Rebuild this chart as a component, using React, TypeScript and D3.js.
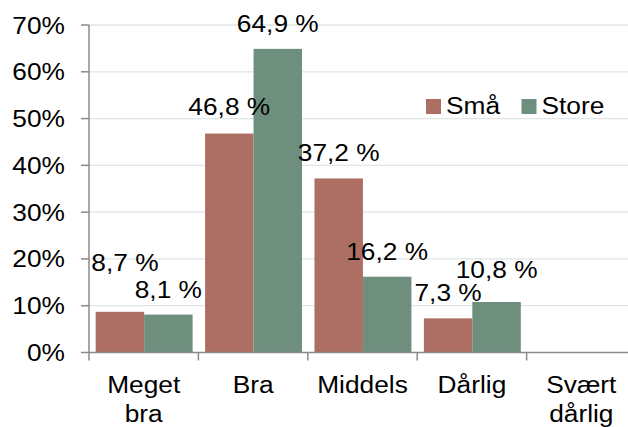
import React from "react";
import * as d3 from "d3";

const categories: string[][] = [["Meget", "bra"], ["Bra"], ["Middels"], ["Dårlig"], ["Svært", "dårlig"]];
const seriesNames = ["Små", "Store"];
const smaValues: (number | null)[] = [8.7, 46.8, 37.2, 7.3, null];
const storeValues: (number | null)[] = [8.1, 64.9, 16.2, 10.8, null];
const yTicks = [0, 10, 20, 30, 40, 50, 60, 70];

const colors = ["#ad6f63", "#6e8e7e"];
// label layout nudges (dx, dy) per series/category, layout only
const labelNudge: [number, number][][] = [
  [[5, -24], [0, -2], [0, 0], [0, 0], [0, 0]],
  [[0, 0], [0, 0], [0, 0], [0, -7], [0, 0]],
];

const W = 628;
const H = 427;
const FS = 23.5;
const SX = 1.12;
const FONT = "'Liberation Sans', Arial, sans-serif";

function fmt(v: number) {
  return v.toFixed(1).replace(".", ",") + " %";
}

function T(props: { x: number; y: number; anchor?: string; children: React.ReactNode }) {
  const { x, y, anchor = "middle", children } = props;
  return (
    <text
      transform={`translate(${x},${y}) scale(${SX},1)`}
      textAnchor={anchor}
      fontFamily={FONT}
      fontSize={FS}
      fill="#000"
    >
      {children}
    </text>
  );
}

export default function App() {
  const left = 89;
  const step = 109.4;
  const x = d3
    .scaleBand<number>()
    .domain(categories.map((_, i) => i))
    .range([left, left + step * categories.length])
    .paddingInner(0)
    .paddingOuter(0);
  const y = d3.scaleLinear().domain([0, 70]).range([352.5, 25]);
  const bw = x.bandwidth();
  const groupOff = bw * 0.061;
  const barW = bw * 0.443;
  const series = [smaValues, storeValues];
  const axisColor = "#8a8a8a";

  return (
    <svg
      width={W}
      height={H}
      style={{ position: "absolute", left: 0, top: 0, background: "#fff" }}
    >
      <rect x={0} y={0} width={W} height={H} fill="#fff" />
      {yTicks.map((t) =>
        t === 0 ? null : (
          <line key={"g" + t} x1={left} x2={W} y1={y(t)} y2={y(t)} stroke="#dde6e4" strokeWidth={1.3} />
        )
      )}
      {series.map((vals, si) =>
        vals.map((v, ci) =>
          v == null ? null : (
            <rect
              key={`b${si}-${ci}`}
              x={(x(ci) as number) + groupOff + si * barW}
              y={y(v)}
              width={barW}
              height={y(0) - y(v)}
              fill={colors[si]}
            />
          )
        )
      )}
      {/* y axis */}
      <line x1={left} x2={left} y1={y(70)} y2={y(0)} stroke={axisColor} strokeWidth={1.5} />
      {yTicks.map((t) => (
        <g key={"yt" + t}>
          <line x1={left - 8} x2={left} y1={y(t)} y2={y(t)} stroke={axisColor} strokeWidth={1.5} />
          <T x={65} y={y(t) + 8.5} anchor="end">{t + "%"}</T>
        </g>
      ))}
      {/* x axis */}
      <line x1={left} x2={W + 20} y1={y(0)} y2={y(0)} stroke={axisColor} strokeWidth={1.5} />
      {categories.map((_, i) => (
        <line
          key={"xt" + i}
          x1={(x(i) as number)}
          x2={(x(i) as number)}
          y1={y(0)}
          y2={y(0) + 8}
          stroke={axisColor}
          strokeWidth={1.5}
        />
      ))}
      {categories.map((lines, i) =>
        lines.map((ln, li) => (
          <T key={`xl${i}-${li}`} x={(x(i) as number) + bw / 2} y={393 + li * 28.5}>
            {ln}
          </T>
        ))
      )}
      {/* data labels */}
      {series.map((vals, si) =>
        vals.map((v, ci) =>
          v == null ? null : (
            <T
              key={`l${si}-${ci}`}
              x={(x(ci) as number) + groupOff + si * barW + barW / 2 + labelNudge[si][ci][0]}
              y={y(v) - 17 + labelNudge[si][ci][1]}
            >
              {fmt(v)}
            </T>
          )
        )
      )}
      {/* legend */}
      {seriesNames.map((name, i) => {
        const lx = i === 0 ? 426 : 521.5;
        return (
          <g key={"lg" + i}>
            <rect x={lx} y={99} width={15} height={15} fill={colors[i]} />
            <T x={lx + 20} y={114.3} anchor="start">{name}</T>
          </g>
        );
      })}
    </svg>
  );
}
